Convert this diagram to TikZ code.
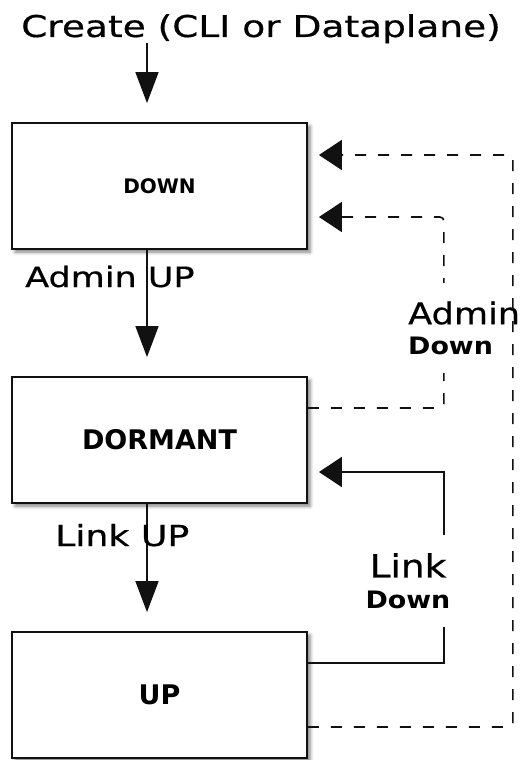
\documentclass[tikz,border=0pt]{standalone}
\usepackage{fontspec}
\setmainfont{DejaVu Sans}
\newfontfamily\labelfont[FakeStretch=1.25,FakeBold=0.6]{DejaVu Sans}
\newfontfamily\sidefont[FakeStretch=1.17,FakeBold=0.6]{DejaVu Sans}
\newfontfamily\downfont[FakeStretch=1.12]{DejaVu Sans}
\usetikzlibrary{arrows.meta,shadows.blur}

\definecolor{ink}{HTML}{111111}
\tikzstyle{statefig}=[x=1pt,y=-1pt]
\tikzstyle{statebox}=[draw=ink,line width=1.8pt,fill=white,minimum width=295pt,minimum height=126pt,inner sep=0pt,blur shadow={shadow xshift=3pt,shadow yshift=-3pt,shadow blur radius=3.5pt,shadow opacity=50}]
\tikzstyle{vflow}=[draw=ink,line width=1.6pt,-{Triangle[length=31pt,width=23pt]},shorten >=19pt]
\tikzstyle{hflow}=[draw=ink,line width=1.6pt,-{Triangle[length=23pt,width=30pt]},shorten >=11pt]
\tikzstyle{cut}=[dash pattern=on 11pt off 12pt]
\tikzstyle{sidelabel}=[fill=white,inner xsep=2pt,inner ysep=18pt]

\begin{document}
\begin{tikzpicture}[style=statefig]
\useasboundingbox (0,0) rectangle (520,760);

\node[statebox,font=\bfseries\fontsize{20pt}{24pt}\selectfont] (down) at (159.5,186) {DOWN};
\node[statebox,font=\bfseries\fontsize{27pt}{32pt}\selectfont] (dormant) at (159.5,440) {DORMANT};
\node[statebox,font=\bfseries\fontsize{27pt}{32pt}\selectfont] (up) at (159.5,695) {UP};

\node[anchor=base,inner sep=0pt,font=\labelfont\fontsize{30pt}{34pt}\selectfont] (title) at (261,37) {Create (CLI or Dataplane)};
\coordinate (create) at (147,43);

\draw[vflow] (create) -- ([xshift=-12.5pt]down.north);
\draw[vflow] ([xshift=-12.5pt]down.south) -- ([xshift=-12.5pt]dormant.north);
\draw[vflow] ([xshift=-12.5pt]dormant.south) -- ([xshift=-12.5pt]up.north);

\node[anchor=base west,inner sep=0pt,font=\labelfont\fontsize{28pt}{32pt}\selectfont] (adminup) at (25,287) {Admin UP};
\node[anchor=base west,inner sep=0pt,font=\labelfont\fontsize{29pt}{32pt}\selectfont] (linkup) at (55,546) {Link UP};

\draw[hflow,cut,rounded corners=4pt] ([yshift=32pt]dormant.east) -- ++(136,0) |- ([yshift=-31pt]down.east);
\draw[hflow] ([yshift=32pt]up.east) -- ++(136,0) |- ([yshift=-32pt]dormant.east);

\node[sidelabel,anchor=west,align=left,font=\fontsize{24pt}{30pt}\selectfont] (admindown) at (406,328)
  {{\sidefont\fontsize{30pt}{30pt}\selectfont Admin}\\{\downfont\bfseries\fontsize{24pt}{30pt}\selectfont Down}};
\node[sidelabel,align=center,font=\fontsize{24pt}{31pt}\selectfont] (linkdown) at (408,581)
  {{\sidefont\fontsize{32pt}{31pt}\selectfont Link}\\{\downfont\bfseries\fontsize{24pt}{31pt}\selectfont Down}};

\draw[hflow,cut,rounded corners=4pt] ([yshift=-32pt]up.east) -- ++(205,0) |- ([yshift=31pt]down.east);
\end{tikzpicture}
\end{document}
